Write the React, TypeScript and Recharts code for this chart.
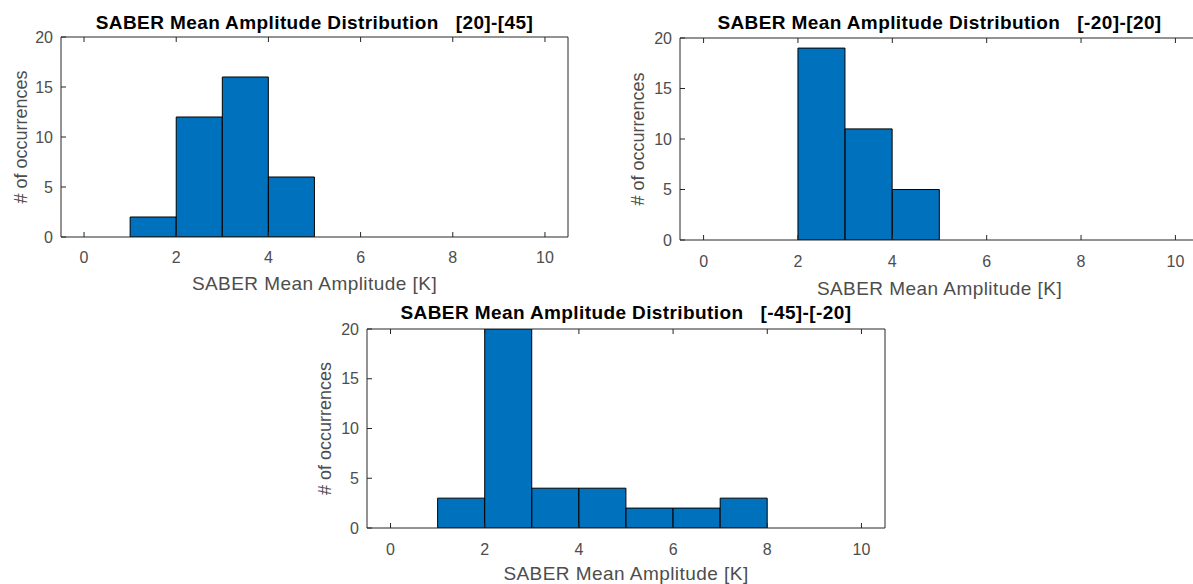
import { BarChart, Bar, XAxis, YAxis, Label } from 'recharts';

// histogram bins of 1 K from 0 to 10, counts
const bins = ['0-1', '1-2', '2-3', '3-4', '4-5', '5-6', '6-7', '7-8', '8-9', '9-10'];
const binLow = [0, 1, 2, 3, 4, 5, 6, 7, 8, 9];
const countsNorth = [0, 2, 12, 16, 6, 0, 0, 0, 0, 0];
const countsEquator = [0, 0, 19, 11, 5, 0, 0, 0, 0, 0];
const countsSouth = [0, 3, 20, 4, 4, 2, 2, 3, 0, 0];

const xTicks = [0, 2, 4, 6, 8, 10];
const yTicks = [0, 5, 10, 15, 20];
const xDomain: [number, number] = [-0.5, 10.5];
const yDomain: [number, number] = [0, 20];

const titleText = 'SABER Mean Amplitude Distribution';
const xLabel = 'SABER Mean Amplitude [K]';
const yLabel = '# of occurrences';

const font = '"Liberation Sans", Arial, sans-serif';
const axisColor = '#262626';
const textColor = '#4d4d4d';
const barFill = '#0072BD';

interface PanelProps {
  counts: number[];
  range: string;
  left: number;
  top: number;
  width: number;
  height: number;
  marginTop: number;
  axisHeight: number;
  tickGapX: number;
  labelOffsetX: number;
  labelOffsetY: number;
  titleOffset: number;
}

const yAxisWidth = 61;
const blank = () => '';

function Histogram(p: PanelProps) {
  const data = bins.map((b, i) => ({ bin: b, lo: binLow[i], count: p.counts[i] }));
  const plotW = p.width - 2 - 1 - yAxisWidth;
  const pad = plotW / 22;
  return (
    <div style={{ position: 'absolute', left: p.left, top: p.top }}>
      <BarChart
        width={p.width}
        height={p.height}
        data={data}
        barCategoryGap={0}
        barGap={0}
        margin={{ top: p.marginTop, right: 2, left: 0, bottom: 0 }}
      >
        <XAxis
          xAxisId="bins"
          dataKey="bin"
          type="category"
          hide
          height={0}
          padding={{ left: pad, right: pad }}
        />
        <XAxis
          xAxisId="x"
          dataKey="lo"
          type="number"
          domain={xDomain}
          ticks={xTicks}
          interval={0}
          allowDataOverflow
          height={p.axisHeight}
          tickSize={-5}
          tickMargin={p.tickGapX}
          stroke={axisColor}
          tick={{ fontSize: 16, fill: textColor, fontFamily: font }}
        >
          <Label
            value={xLabel}
            position="insideBottom"
            offset={p.labelOffsetX}
            fill={textColor}
            fontSize={19}
            fontFamily={font}
            letterSpacing={0.45}
          />
        </XAxis>
        <XAxis
          xAxisId="top"
          dataKey="lo"
          orientation="top"
          type="number"
          domain={xDomain}
          ticks={xTicks}
          interval={0}
          allowDataOverflow
          height={1}
          tickSize={-5}
          tickFormatter={blank}
          stroke={axisColor}
        >
          <Label
            value={`${titleText}\u00a0\u00a0\u00a0${p.range}`}
            position="top"
            offset={p.titleOffset}
            fill="#000"
            fontSize={19}
            fontWeight="bold"
            fontFamily={font}
            letterSpacing={0.4}
          />
        </XAxis>
        <YAxis
          yAxisId="left"
          domain={yDomain}
          ticks={yTicks}
          interval={0}
          allowDataOverflow
          width={yAxisWidth}
          tickSize={-5}
          tickMargin={13}
          stroke={axisColor}
          tick={{ fontSize: 16, fill: textColor, fontFamily: font }}
        >
          <Label
            value={yLabel}
            angle={-90}
            position="insideLeft"
            offset={p.labelOffsetY}
            fill={textColor}
            fontSize={18}
            fontFamily={font}
            style={{ textAnchor: 'middle' }}
          />
        </YAxis>
        <YAxis
          yAxisId="right"
          orientation="right"
          domain={yDomain}
          ticks={yTicks}
          interval={0}
          width={1}
          tickSize={-5}
          tickFormatter={blank}
          stroke={axisColor}
        />
        <Bar
          xAxisId="bins"
          yAxisId="left"
          dataKey="count"
          fill={barFill}
          stroke="#000"
          strokeWidth={1}
          isAnimationActive={false}
        />
      </BarChart>
    </div>
  );
}

export default function App() {
  return (
    <div
      style={{
        position: 'absolute',
        left: 0,
        top: 0,
        width: 1193,
        height: 584,
        overflow: 'hidden',
        background: '#fff',
        fontFamily: font,
      }}
    >
      <Histogram
        counts={countsNorth}
        range="[20]-[45]"
        left={0}
        top={0}
        width={571}
        height={297}
        marginTop={36}
        axisHeight={60}
        tickGapX={20}
        labelOffsetX={7}
        labelOffsetY={21}
        titleOffset={7}
      />
      <Histogram
        counts={countsEquator}
        range="[-20]-[20]"
        left={619}
        top={0}
        width={583}
        height={302}
        marginTop={37}
        axisHeight={62}
        tickGapX={21}
        labelOffsetX={7}
        labelOffsetY={19}
        titleOffset={8}
      />
      <Histogram
        counts={countsSouth}
        range="[-45]-[-20]"
        left={306}
        top={292}
        width={582}
        height={292}
        marginTop={36}
        axisHeight={56}
        tickGapX={21}
        labelOffsetX={4}
        labelOffsetY={19}
        titleOffset={9}
      />
    </div>
  );
}
